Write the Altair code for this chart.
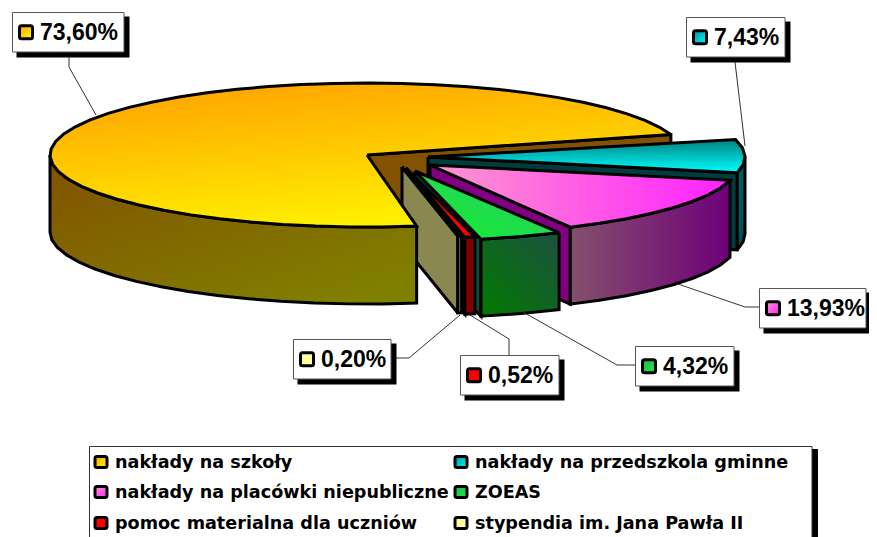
import math
import altair as alt
import pandas as pd

# ---- data ----
NAMES = ["nakłady na szkoły", "nakłady na przedszkola gminne", "nakłady na placówki niepubliczne",
         "ZOEAS", "pomoc materialna dla uczniów", "stypendia im. Jana Pawła II"]
SHARES = [73.60, 7.43, 13.93, 4.32, 0.52, 0.20]
SHARE_TEXT = ["73,60%", "7,43%", "13,93%", "4,32%", "0,52%", "0,20%"]

# ---- layout ----
START = 171.0       # bearing at which the first slice begins
RX, RY, DEPTH = 317, 72, 77
APEX = [(367, 155), (428, 157), (430, 165), (415, 171), (406, 168), (402, 167)]
SCALE = [1.0, 1.0, 0.97, 0.97, 0.98, 0.975]
BEAR = [0, 0, 0, -0.8, -1.2, -1.4]      # small per-slice turn caused by the explosion
TRIM = [-2.5, 0, 0, 0, 0, 0]
BOX = [(12.5, 12.5, 124, 52), (686.5, 17.5, 785, 57), (759.5, 288.5, 866, 328),
       (635.5, 346.5, 734, 386), (460.5, 355.5, 559, 395), (293.5, 339.5, 391, 379)]
LEAD = [[(69, 52), (69, 67), (96, 115)],
        [(735, 62), (745, 146)],
        [(678, 284), (745, 307), (760, 307)],
        [(523, 312), (617, 365), (635, 365)],
        [(470, 315), (509, 339), (509, 355)],
        [(460, 315), (409, 358), (391, 358)]]
LEG_POS = [(95, 456.5), (455, 456.5), (95, 486.5), (455, 486.5), (95, 517.5), (455, 517.5)]


def grad(c0, c1, x1=0, y1=0, x2=1, y2=0):
    return alt.Gradient(gradient="linear", x1=x1, y1=y1, x2=x2, y2=y2,
                        stops=[alt.GradientStop(color=c0, offset=0), alt.GradientStop(color=c1, offset=1)])


TOP = [grad("#ffa000", "#fff000", 0.1, 0, 0.45, 1), grad("#008080", "#00ffff", 0, 0, 0, 1),
       grad("#ff99cc", "#ff20ff"), grad("#10f030", "#30c868", 0, 1, 1, 0),
       grad("#ff0000", "#ff0000"), grad("#ffff99", "#ffff99")]
WALL = [grad("#825000", "#808000", 0, 0, 0.8, 1), grad("#006868", "#004848", 0, 0, 1, 1),
        grad("#84506c", "#6e0078"), grad("#007a00", "#1e5040", 0, 1, 1, 0),
        grad("#800000", "#800000"), grad("#888850", "#888850")]
CUT = ["#825200", "#003c3c", "#800080", "#0e4a30", "#600000", "#888850"]
SWATCH = [grad("#ffa000", "#ffff00", 0, 0, 1, 1), grad("#008b9b", "#00ffff", 0, 0, 1, 1),
          grad("#ff99cc", "#ff20ff", 0, 0, 1, 1), grad("#20b050", "#20f040", 0, 0, 1, 1),
          grad("#ff0000", "#ff0000"), grad("#ffff99", "#ffff99")]

X = alt.X("x:Q", scale=alt.Scale(domain=[8, 869], nice=False, zero=False), axis=None)
Y = alt.Y("y:Q", scale=alt.Scale(domain=[537, 8], nice=False, zero=False), axis=None)
X2, Y2 = alt.X2("x2:Q"), alt.Y2("y2:Q")


def poly(pts, fill, sw=3):
    pts = list(pts) + [pts[0]]
    df = pd.DataFrame({"x": [p[0] for p in pts], "y": [p[1] for p in pts], "i": range(len(pts))})
    return alt.Chart(df).mark_line(fill=fill, stroke="black", strokeWidth=sw, strokeJoin="miter",
                                   strokeMiterLimit=3).encode(x=X, y=Y, order="i:Q")


def path(pts, color="#333333", sw=1):
    df = pd.DataFrame({"x": [p[0] for p in pts], "y": [p[1] for p in pts], "i": range(len(pts))})
    return alt.Chart(df).mark_line(stroke=color, strokeWidth=sw).encode(x=X, y=Y, order="i:Q")


def rect(x0, y0, x1, y1, fill, stroke=None, sw=1, r=0):
    df = pd.DataFrame({"x": [x0], "y": [y0], "x2": [x1], "y2": [y1]})
    kw = {"stroke": stroke, "strokeWidth": sw} if stroke else {"strokeWidth": 0}
    return alt.Chart(df).mark_rect(fill=fill, cornerRadius=r, **kw).encode(x=X, y=Y, x2=X2, y2=Y2)


def text(x, y, s, size, font="Liberation Sans"):
    df = pd.DataFrame({"x": [x], "y": [y], "t": [s]})
    return alt.Chart(df).mark_text(align="left", baseline="alphabetic", font=font, fontWeight="bold",
                                   fontSize=size, color="black").encode(x=X, y=Y, text="t:N")


def at(a, b, k=1.0, dz=0):
    t = math.radians(b)
    return (a[0] + k * RX * math.sin(t), a[1] - k * RY * math.cos(t) + dz)


def arc(a, k, b0, b1, dz=0):
    n = max(2, int(abs(b1 - b0) / 6) + 1)
    return [at(a, b0 + (b1 - b0) * j / (n - 1), k, dz) for j in range(n)]


total = sum(SHARES)
spans, b = [], START
for i, v in enumerate(SHARES):
    step = v / total * 360
    spans.append((b + BEAR[i], b + step + BEAR[i] + TRIM[i]))
    b += step


def cut(i, bearing):
    a, k = APEX[i], SCALE[i]
    e = at(a, bearing, k)
    return poly([a, e, (e[0], e[1] + DEPTH), (a[0], a[1] + DEPTH)], CUT[i])


def wall(i):
    a, k = APEX[i], SCALE[i]
    b0, b1 = spans[i]
    if i == 0:
        lo, hi = b0, 270
    else:
        lo, hi = max(b0 % 360, 90), min(b1 % 360 or 360, 270)
    return poly(arc(a, k, lo, hi) + arc(a, k, hi, lo, DEPTH), WALL[i])


def top(i):
    a, k = APEX[i], SCALE[i]
    return poly([a] + arc(a, k, spans[i][0], spans[i][1]), TOP[i])


layers = []
# notch of the big slice
layers += [cut(0, spans[0][0]), cut(0, spans[0][1])]
# exploded slices, back to front
for i in range(1, 6):
    layers += [cut(i, spans[i][1]), wall(i), top(i)]
# big slice on top of the notch
layers += [wall(0), top(0)]

# leader lines
for pts in LEAD:
    layers.append(path(pts))

# value labels
for i, (x0, y0, x1, y1) in enumerate(BOX):
    layers.append(rect(x0 + 4, y0 + 4, x1 + 5.5, y1 + 5.5, "black"))
    layers.append(rect(x0, y0, x1, y1, "white", "#555555", 1))
    sy = (y0 + y1) / 2
    layers.append(rect(x0 + 7, sy - 6.5, x0 + 20, sy + 6.5, SWATCH[i], "black", 3, 2))
    layers.append(text(x0 + 27.5, sy + 8, SHARE_TEXT[i], 23))

# legend
layers.append(rect(96, 449, 818, 540, "black"))
layers.append(rect(89.5, 446.5, 812, 540, "white", "#333333", 1))
for (lx, ly), s, c in zip(LEG_POS, NAMES, SWATCH):
    layers.append(rect(lx, ly, lx + 12, ly + 11, c, "black", 3, 2))
    layers.append(text(lx + 20, ly + 11, s, 17.6, "DejaVu Sans"))

chart = alt.layer(*layers).properties(width=861, height=529, padding=0, autosize="none").configure_view(stroke=None)
chart.save("out.html", embed_options={"renderer": "svg", "actions": False})
